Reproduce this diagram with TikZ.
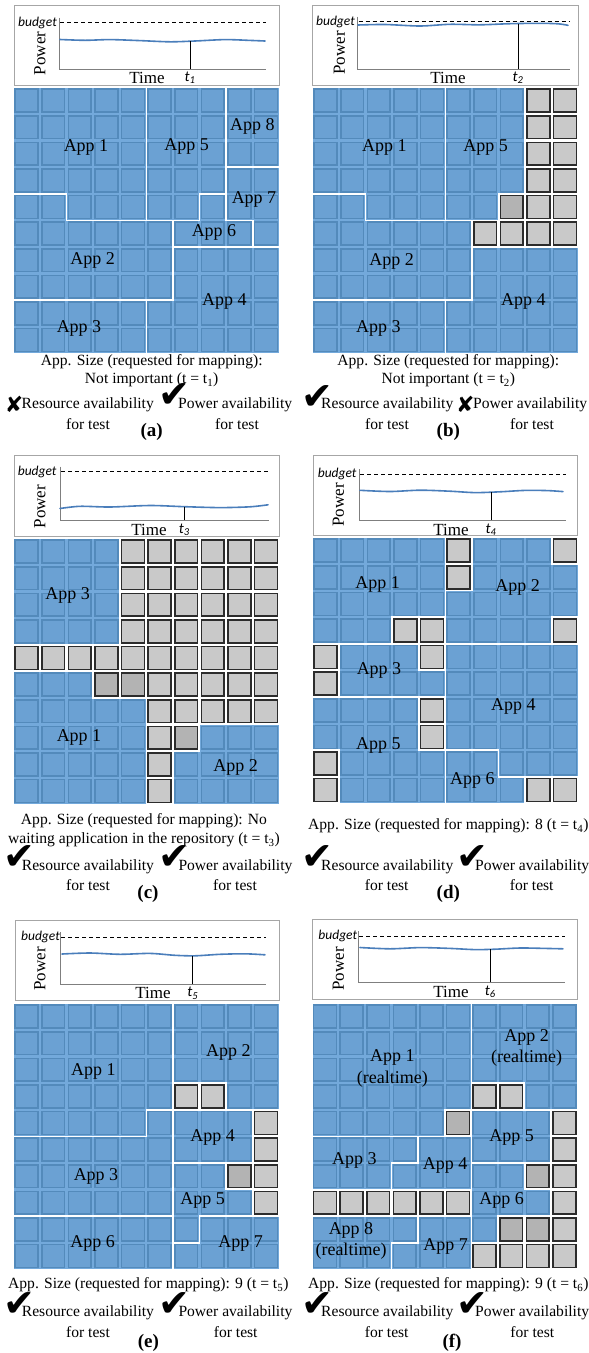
\documentclass[tikz,border=0pt]{standalone}
\usepackage{fontspec}
\setmainfont{Liberation Serif}
\newfontfamily\calfont{Carlito}
\newfontfamily\symfont{DejaVu Sans}
\definecolor{appblue}{HTML}{5B9BD5}
\definecolor{cellgray}{HTML}{C9C9C9}
\definecolor{cellgraydk}{HTML}{B3B3B3}
\definecolor{celledge}{HTML}{2C2C2C}
\definecolor{curveblue}{HTML}{4A7EBB}
\definecolor{framegray}{HTML}{A6A6A6}
\definecolor{axisgray}{HTML}{7F7F7F}
\tikzset{
  meshat/.style 2 args={shift={(#1,#2)}, x=26.6pt, y=-26.6pt},
  cellbox/.style={fill=cellgray, draw=celledge, line width=1.6pt},
  darkcell/.style={fill=cellgraydk, draw=celledge, line width=1.6pt},
  app/.style={fill=appblue, fill opacity=0.85, draw=white, line width=1.6pt},
  applabel/.style={font=\fontsize{18}{21.5}\selectfont, align=center, inner sep=0pt},
  chartframe/.style={draw=framegray, line width=0.8pt},
  axisline/.style={draw=axisgray, line width=0.8pt},
  budgetline/.style={draw=black, line width=0.8pt, dash pattern=on 4pt off 3pt},
  powercurve/.style={draw=curveblue, line width=1.6pt, line cap=round},
  tline/.style={draw=black, line width=0.9pt},
  budgetlabel/.style={font=\calfont\itshape\fontsize{13.5}{15}\selectfont, anchor=east, inner sep=0pt},
  axislabel/.style={font=\fontsize{17}{19}\selectfont, inner sep=0pt},
  tlabel/.style={font=\calfont\itshape\fontsize{15}{17}\selectfont, inner sep=0pt},
  capline/.style={font=\fontsize{15.6}{18.5}\selectfont, inner sep=0pt, align=center},
  testlabel/.style={font=\fontsize{15.6}{18.5}\selectfont, inner sep=0pt, anchor=west},
  okmark/.style={font=\symfont\fontsize{38}{38}\selectfont, inner sep=0pt},
  nomark/.style={font=\symfont\fontsize{22}{22}\selectfont, inner sep=0pt},
  sublabel/.style={font=\bfseries\fontsize{19}{21}\selectfont, inner sep=0pt},
}
% all 10x10 tiles of a mesh (inside a meshat scope)
\newcommand\meshcells{%
  \foreach \i in {0,...,9}{\foreach \j in {0,...,9}{%
    \draw[cellbox] (\i+0.07,\j+0.07) rectangle (\i+0.93,\j+0.93);}}}
% darker free tiles, list of col/row
\newcommand\darktiles[1]{%
  \foreach \i/\j in {#1}{\draw[darkcell] (\i+0.07,\j+0.07) rectangle (\i+0.93,\j+0.93);}}
% chart frame, axes and budget line:
% #1 left, #2 top, #3 right, #4 bottom, #5 axis x, #6 axis y, #7 budget y, #8 axis end
\newcommand\chartaxes[8]{%
  \draw[chartframe] (#1,#2) rectangle (#3,#4);
  \draw[axisline] (#5,#7-5) -- (#5,#6) -- (#8,#6);
  \draw[budgetline] (#5+1,#7) -- (#8,#7);}
\begin{document}
\begin{tikzpicture}[x=1pt,y=-1pt]
\useasboundingbox (0,0) rectangle (589,1353);
\fill[white] (0,0) rectangle (589,1353);

%% ---------------- (a) ----------------
\chartaxes{14}{5}{279.3}{85}{59.3}{69.3}{22.7}{266}
\draw[powercurve] plot[smooth] coordinates {(60,39.5) (85,40.3) (110,39.6) (140,40.6) (170,41.8) (195,41) (225,39.6) (250,40.4) (265,41)};
\draw[tline] (190,41.3) -- (190,69.3);
\node[budgetlabel] (a-budget) at (57,22.7) {budget};
\node[axislabel, rotate=90] (a-power) at (40,53.3) {Power};
\node[axislabel] (a-time) at (147,78) {Time};
\node[tlabel] (a-t) at (190,78) {t\textsubscript{1}};
\begin{scope}[meshat={13.3}{87.3}]
  \meshcells
  \draw[app] (0,0) -- (5,0) -- (5,5) -- (2,5) -- (2,4) -- (0,4) -- cycle;
  \draw[app] (0,4) -- (2,4) -- (2,5) -- (6,5) -- (6,8) -- (0,8) -- cycle;
  \draw[app] (0,8) -- (5,8) -- (5,10) -- (0,10) -- cycle;
  \draw[app] (6,6) -- (10,6) -- (10,10) -- (5,10) -- (5,8) -- (6,8) -- cycle;
  \draw[app] (5,0) -- (8,0) -- (8,4) -- (7,4) -- (7,5) -- (5,5) -- cycle;
  \draw[app] (7,4) -- (8,4) -- (8,5) -- (9,5) -- (9,6) -- (6,6) -- (6,5) -- (7,5) -- cycle;
  \draw[app] (8,3) -- (10,3) -- (10,6) -- (9,6) -- (9,5) -- (8,5) -- cycle;
  \draw[app] (8,0) -- (10,0) -- (10,3) -- (8,3) -- cycle;
\end{scope}
\node[applabel] (a-app1) at (86,147.3) {App 1};
\node[applabel] (a-app5) at (186.7,146.7) {App 5};
\node[applabel] (a-app8) at (252.3,126.7) {App 8};
\node[applabel] (a-app7) at (254,199.3) {App 7};
\node[applabel] (a-app6) at (214,232.7) {App 6};
\node[applabel] (a-app2) at (92.7,260) {App 2};
\node[applabel] (a-app4) at (224.3,301) {App 4};
\node[applabel] (a-app3) at (79,328.3) {App 3};
\node[capline] (a-cap1) at (151.7,361.7) {App. Size (requested for mapping):};
\node[capline] (a-cap2) at (151.7,380) {Not important (t = t\textsubscript{1})};
\node[testlabel] (a-res) at (21.5,405) {Resource availability};
\node[testlabel] (a-pow) at (178,405) {Power availability};
\node[capline] (a-res2) at (88,424) {for test};
\node[capline] (a-pow2) at (237,424) {for test};
\node[nomark] (a-resmark) at (14.2,404.5) {✘};
\node[okmark] (a-powmark) at (174.5,395.5) {✔};
\node[sublabel] (a-label) at (151.7,432) {(a)};

%% ---------------- (b) ----------------
\chartaxes{312}{5}{578}{85}{357.7}{69.3}{21.7}{570}
\draw[powercurve] plot[smooth] coordinates {(358,25) (385,24.5) (420,26) (450,24.3) (480,24.8) (510,23.7) (540,23.3) (558,23.8) (568,25.3)};
\draw[tline] (518,23.6) -- (518,69.3);
\node[budgetlabel] (b-budget) at (355,21.7) {budget};
\node[axislabel, rotate=90] (b-power) at (339.5,53) {Power};
\node[axislabel] (b-time) at (448,78) {Time};
\node[tlabel] (b-t) at (518,78) {t\textsubscript{2}};
\begin{scope}[meshat={312.3}{87.3}]
  \meshcells
  \darktiles{7/4}
  \draw[app] (0,0) -- (5,0) -- (5,5) -- (2,5) -- (2,4) -- (0,4) -- cycle;
  \draw[app] (0,4) -- (2,4) -- (2,5) -- (6,5) -- (6,8) -- (0,8) -- cycle;
  \draw[app] (0,8) -- (5,8) -- (5,10) -- (0,10) -- cycle;
  \draw[app] (6,6) -- (10,6) -- (10,10) -- (5,10) -- (5,8) -- (6,8) -- cycle;
  \draw[app] (5,0) -- (8,0) -- (8,4) -- (7,4) -- (7,5) -- (5,5) -- cycle;
\end{scope}
\node[applabel] (b-app1) at (384.3,147.3) {App 1};
\node[applabel] (b-app5) at (485.7,147.3) {App 5};
\node[applabel] (b-app2) at (391.7,261) {App 2};
\node[applabel] (b-app4) at (523.3,301) {App 4};
\node[applabel] (b-app3) at (378.3,328.3) {App 3};
\node[capline] (b-cap1) at (448.3,361.7) {App. Size (requested for mapping):};
\node[capline] (b-cap2) at (448.3,380) {Not important (t = t\textsubscript{2})};
\node[testlabel] (b-res) at (321,405) {Resource availability};
\node[testlabel] (b-pow) at (473,405) {Power availability};
\node[capline] (b-res2) at (387,424) {for test};
\node[capline] (b-pow2) at (532,424) {for test};
\node[okmark] (b-resmark) at (317.3,397.3) {✔};
\node[nomark] (b-powmark) at (465.3,404.5) {✘};
\node[sublabel] (b-label) at (448.3,432) {(b)};

%% ---------------- (c) ----------------
\chartaxes{14}{455}{279.3}{536}{60}{520}{471.7}{269}
\draw[powercurve] plot[smooth] coordinates {(60,508.5) (80,506.3) (110,507) (150,505.5) (185,506.7) (220,507.6) (250,506.8) (268,504.8)};
\draw[tline] (184.3,506.6) -- (184.3,520);
\node[budgetlabel] (c-budget) at (56.7,471.7) {budget};
\node[axislabel, rotate=90] (c-power) at (40,506.7) {Power};
\node[axislabel] (c-time) at (149,530) {Time};
\node[tlabel] (c-t) at (184.3,530) {t\textsubscript{3}};
\begin{scope}[meshat={13.3}{538.3}]
  \meshcells
  \darktiles{3/5,4/5,6/7}
  \draw[app] (0,0) -- (4,0) -- (4,4) -- (0,4) -- cycle;
  \draw[app] (0,5) -- (3,5) -- (3,6) -- (5,6) -- (5,10) -- (0,10) -- cycle;
  \draw[app] (7,7) -- (10,7) -- (10,10) -- (6,10) -- (6,8) -- (7,8) -- cycle;
\end{scope}
\node[applabel] (c-app3) at (67.7,595.7) {App 3};
\node[applabel] (c-app1) at (79,737.7) {App 1};
\node[applabel] (c-app2) at (235.7,767.7) {App 2};
\node[capline] (c-cap1) at (144,821) {App. Size (requested for mapping): No};
\node[capline] (c-cap2) at (144,840) {waiting application in the repository (t = t\textsubscript{3})};
\node[testlabel] (c-res) at (21.7,866.7) {Resource availability};
\node[testlabel] (c-pow) at (178.3,866.7) {Power availability};
\node[capline] (c-res2) at (88,885.5) {for test};
\node[capline] (c-pow2) at (235,885.5) {for test};
\node[okmark] (c-resmark) at (19,858) {✔};
\node[okmark] (c-powmark) at (174.8,858) {✔};
\node[sublabel] (c-label) at (148,894) {(c)};

%% ---------------- (d) ----------------
\chartaxes{313.3}{455}{577.7}{535}{359.3}{520}{474.3}{566}
\draw[powercurve] plot[smooth] coordinates {(360,490.3) (390,491.5) (420,490.2) (450,491.2) (475,492.6) (500,491.8) (525,490.4) (548,490.6) (563,491.6)};
\draw[tline] (491,492.1) -- (491,520);
\node[budgetlabel] (d-budget) at (356.7,474.3) {budget};
\node[axislabel, rotate=90] (d-power) at (338.3,505) {Power};
\node[axislabel] (d-time) at (451,530) {Time};
\node[tlabel] (d-t) at (491,530) {t\textsubscript{4}};
\begin{scope}[meshat={312.3}{537.4}]
  \meshcells
  \draw[app] (0,0) -- (5,0) -- (5,3) -- (3,3) -- (3,4) -- (0,4) -- cycle;
  \draw[app] (6,0) -- (9,0) -- (9,1) -- (10,1) -- (10,3) -- (9,3) -- (9,4) -- (5,4) -- (5,2) -- (6,2) -- cycle;
  \draw[app] (1,4) -- (4,4) -- (4,5) -- (5,5) -- (5,6) -- (1,6) -- cycle;
  \draw[app] (5,4) -- (10,4) -- (10,9) -- (7,9) -- (7,8) -- (5,8) -- cycle;
  \draw[app] (0,6) -- (4,6) -- (4,8) -- (5,8) -- (5,10) -- (1,10) -- (1,8) -- (0,8) -- cycle;
  \draw[app] (5,8) -- (7,8) -- (7,9) -- (8,9) -- (8,10) -- (5,10) -- cycle;
\end{scope}
\node[applabel] (d-app1) at (377.7,584.3) {App 1};
\node[applabel] (d-app2) at (517.7,587.7) {App 2};
\node[applabel] (d-app3) at (379,670) {App 3};
\node[applabel] (d-app4) at (513.3,706.7) {App 4};
\node[applabel] (d-app5) at (378.3,745.7) {App 5};
\node[applabel] (d-app6) at (472.3,780) {App 6};
\node[capline] (d-cap1) at (448.3,826) {App. Size (requested for mapping): 8 (t = t\textsubscript{4})};
\node[testlabel] (d-res) at (321,866.7) {Resource availability};
\node[testlabel] (d-pow) at (475,866.7) {Power availability};
\node[capline] (d-res2) at (386.7,885.5) {for test};
\node[capline] (d-pow2) at (531.7,885.5) {for test};
\node[okmark] (d-resmark) at (317.3,858) {✔};
\node[okmark] (d-powmark) at (472.3,858) {✔};
\node[sublabel] (d-label) at (448.3,894) {(d)};

%% ---------------- (e) ----------------
\chartaxes{15}{920}{279.3}{1000}{60}{984.3}{937.3}{266}
\draw[powercurve] plot[smooth] coordinates {(62,954) (90,953) (120,954.3) (150,953.4) (175,955.3) (195,955.8) (220,954.3) (245,953.8) (265,954.8)};
\draw[tline] (192.7,955.8) -- (192.7,984.3);
\node[budgetlabel] (e-budget) at (60,937.3) {budget};
\node[axislabel, rotate=90] (e-power) at (40,969) {Power};
\node[axislabel] (e-time) at (153,993.3) {Time};
\node[tlabel] (e-t) at (192.7,993.3) {t\textsubscript{5}};
\begin{scope}[meshat={13.3}{1003.3}]
  \meshcells
  \darktiles{8/6}
  \draw[app] (0,0) -- (6,0) -- (6,4) -- (5,4) -- (5,5) -- (0,5) -- cycle;
  \draw[app] (5,4) -- (6,4) -- (6,8) -- (0,8) -- (0,5) -- (5,5) -- cycle;
  \draw[app] (0,8) -- (6,8) -- (6,10) -- (0,10) -- cycle;
  \draw[app] (6,0) -- (10,0) -- (10,4) -- (8,4) -- (8,3) -- (6,3) -- cycle;
  \draw[app] (6,4) -- (9,4) -- (9,6) -- (6,6) -- cycle;
  \draw[app] (6,6) -- (8,6) -- (8,7) -- (9,7) -- (9,8) -- (7,8) -- (7,9) -- (6,9) -- cycle;
  \draw[app] (7,8) -- (10,8) -- (10,10) -- (6,10) -- (6,9) -- (7,9) -- cycle;
\end{scope}
\node[applabel] (e-app1) at (93.3,1071) {App 1};
\node[applabel] (e-app2) at (228.3,1052.7) {App 2};
\node[applabel] (e-app4) at (212.7,1137.7) {App 4};
\node[applabel] (e-app3) at (96,1176.7) {App 3};
\node[applabel] (e-app5) at (202.7,1200.7) {App 5};
\node[applabel] (e-app6) at (92.7,1243.3) {App 6};
\node[applabel] (e-app7) at (240.7,1243.3) {App 7};
\node[capline] (e-cap1) at (148.3,1285) {App. Size (requested for mapping): 9 (t = t\textsubscript{5})};
\node[testlabel] (e-res) at (21.7,1312.7) {Resource availability};
\node[testlabel] (e-pow) at (178.3,1312.7) {Power availability};
\node[capline] (e-res2) at (88,1331.7) {for test};
\node[capline] (e-pow2) at (235.7,1331.7) {for test};
\node[okmark] (e-resmark) at (19,1304.5) {✔};
\node[okmark] (e-powmark) at (174.8,1304.5) {✔};
\node[sublabel] (e-label) at (148.3,1342.7) {(e)};

%% ---------------- (f) ----------------
\chartaxes{312.3}{919.3}{577.7}{999.3}{358.3}{982.3}{936}{565}
\draw[powercurve] plot[smooth] coordinates {(360,947.5) (390,948.8) (420,947.6) (450,948.4) (475,949.6) (495,949.2) (520,948) (545,948.4) (563,948.8)};
\draw[tline] (490.3,949.3) -- (490.3,982.3);
\node[budgetlabel] (f-budget) at (357.3,936) {budget};
\node[axislabel, rotate=90] (f-power) at (338.3,969) {Power};
\node[axislabel] (f-time) at (451,992) {Time};
\node[tlabel] (f-t) at (490.3,992) {t\textsubscript{6}};
\begin{scope}[meshat={311.7}{1003.3}]
  \meshcells
  \darktiles{5/4,8/6,7/8,8/8}
  \draw[app] (0,0) -- (6,0) -- (6,4) -- (5,4) -- (5,5) -- (0,5) -- cycle;
  \draw[app] (6,0) -- (10,0) -- (10,4) -- (8,4) -- (8,3) -- (6,3) -- cycle;
  \draw[app] (6,4) -- (9,4) -- (9,6) -- (6,6) -- cycle;
  \draw[app] (6,6) -- (8,6) -- (8,7) -- (9,7) -- (9,8) -- (7,8) -- (7,9) -- (6,9) -- cycle;
  \draw[app] (0,5) -- (4,5) -- (4,6) -- (3,6) -- (3,7) -- (0,7) -- cycle;
  \draw[app] (4,5) -- (6,5) -- (6,7) -- (3,7) -- (3,6) -- (4,6) -- cycle;
  \draw[app] (0,8) -- (4,8) -- (4,9) -- (3,9) -- (3,10) -- (0,10) -- cycle;
  \draw[app] (4,8) -- (6,8) -- (6,10) -- (3,10) -- (3,9) -- (4,9) -- cycle;
\end{scope}
\node[applabel] (f-app1) at (392.3,1068.5) {App 1\\(realtime)};
\node[applabel] (f-app2) at (526.7,1047.7) {App 2\\(realtime)};
\node[applabel] (f-app5) at (511.7,1137.3) {App 5};
\node[applabel] (f-app3) at (354.3,1160) {App 3};
\node[applabel] (f-app4) at (445,1165) {App 4};
\node[applabel] (f-app6) at (501.7,1200.7) {App 6};
\node[applabel] (f-app8) at (351,1241) {App 8\\(realtime)};
\node[applabel] (f-app7) at (445.7,1246) {App 7};
\node[capline] (f-cap1) at (448.3,1285) {App. Size (requested for mapping): 9 (t = t\textsubscript{6})};
\node[testlabel] (f-res) at (321,1312.7) {Resource availability};
\node[testlabel] (f-pow) at (475,1312.7) {Power availability};
\node[capline] (f-res2) at (386.7,1331.7) {for test};
\node[capline] (f-pow2) at (532.3,1331.7) {for test};
\node[okmark] (f-resmark) at (317.3,1304.5) {✔};
\node[okmark] (f-powmark) at (472.3,1304.5) {✔};
\node[sublabel] (f-label) at (452,1342.7) {(f)};
\end{tikzpicture}
\end{document}
